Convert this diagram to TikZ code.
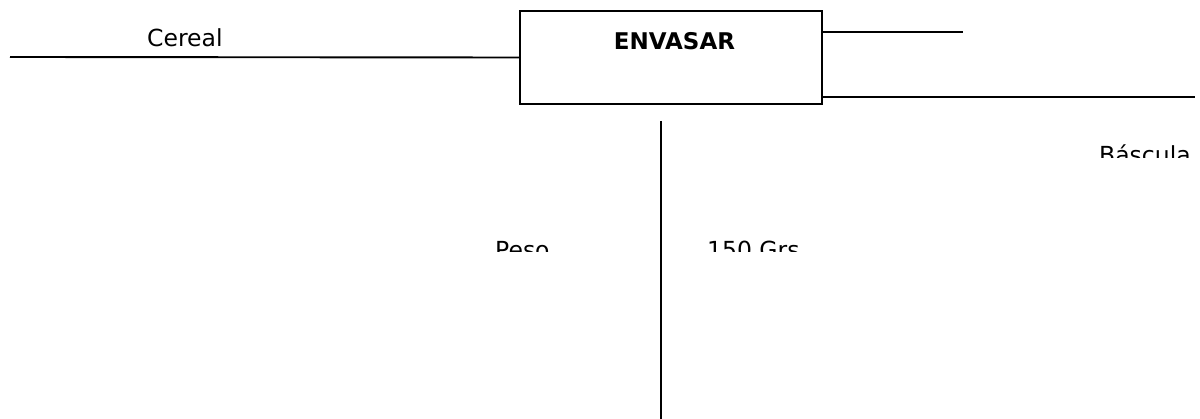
\documentclass[tikz,border=0pt]{standalone}
\usepackage{fontspec}
\setmainfont{DejaVu Sans}
\begin{document}
\begin{tikzpicture}[x=1pt,y=-1pt,
  ln/.style={line width=1.9pt,black},
  lbl/.style={inner sep=0pt,anchor=base west,font=\fontsize{23.5}{28}\selectfont},
  procbox/.style={draw,line width=1.9pt,minimum width=302pt,minimum height=93pt,inner sep=0pt}]
\useasboundingbox (0,0) rectangle (1200,419);
\node[procbox] (box) at (671,57.5) {};
\node[inner sep=0pt,anchor=base,font=\fontsize{23}{28}\selectfont\bfseries] (title) at (674.5,50) {ENVASAR};
\coordinate (cin) at (10,57);
\coordinate (o1s) at (822,32);
\coordinate (o1e) at (963,32);
\coordinate (o2s) at (822,97);
\coordinate (o2e) at (1195,97);
\coordinate (vs) at (661,121);
\coordinate (ve) at (661,419);
\draw[ln] (cin) -- (box.west);
\draw[ln] (o1s) -- (o1e);
\draw[ln] (o2s) -- (o2e);
\draw[ln] (vs) -- (ve);
\node[lbl] (cereal) at (147,47) {Cereal};
\begin{scope}
\clip (1080,130) rectangle (1200,158);
\node[lbl] (bascula) at (1099,164) {Báscula};
\end{scope}
\begin{scope}
\clip (480,230) rectangle (800,252);
\node[lbl] (peso) at (495,259) {Peso};
\node[lbl] (grs) at (707,259) {150 Grs};
\end{scope}
\end{tikzpicture}
\end{document}
